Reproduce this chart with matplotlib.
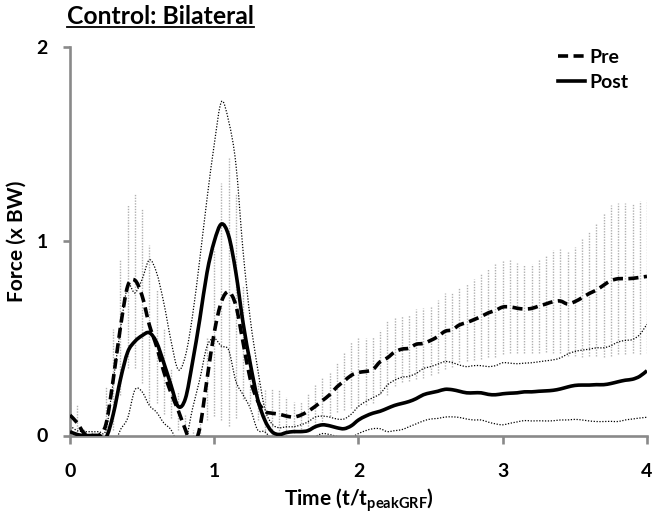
import numpy as np
import matplotlib
matplotlib.use("Agg")
import matplotlib.pyplot as plt
from matplotlib.lines import Line2D
from matplotlib.path import Path
from matplotlib.patches import PathPatch

plt.rcParams["font.family"] = ["Lato", "DejaVu Sans"]
plt.rcParams["font.weight"] = "bold"
plt.rcParams["mathtext.fontset"] = "custom"
plt.rcParams["mathtext.rm"] = "Lato:bold"
plt.rcParams["mathtext.bf"] = "Lato:bold"

# normalised time, one sample every 0.05 t/t_peakGRF
time = np.round(np.arange(81) * 0.05, 2)

pre_mean = [
    0.105, 0.065, 0.01, 0.0, 0.0, 0.06, 0.29, 0.56, 0.77, 0.80,
    0.72, 0.57, 0.46, 0.33, 0.22, 0.13, 0.03, -0.05, 0.04, 0.29,
    0.53, 0.69, 0.74, 0.67, 0.48, 0.29, 0.18, 0.125, 0.115, 0.11,
    0.10, 0.095, 0.105, 0.125, 0.15, 0.18, 0.21, 0.25, 0.28, 0.31,
    0.325, 0.33, 0.34, 0.38, 0.40, 0.43, 0.445, 0.45, 0.47, 0.475,
    0.49, 0.51, 0.537, 0.545, 0.57, 0.582, 0.597, 0.613, 0.632, 0.645,
    0.662, 0.663, 0.656, 0.652, 0.655, 0.667, 0.678, 0.69, 0.693, 0.678,
    0.69, 0.71, 0.732, 0.75, 0.775, 0.798, 0.808, 0.808, 0.81, 0.815,
    0.82,
]
pre_sd = [
    0.08, 0.09, 0.03, 0.02, 0.02, 0.19, 0.26, 0.35, 0.42, 0.45,
    0.45, 0.41, 0.29, 0.22, 0.13, 0.10, 0.075, 0.08, 0.04, 0.21,
    0.43, 0.61, 0.69, 0.58, 0.29, 0.13, 0.10, 0.11, 0.13, 0.13,
    0.10, 0.08, 0.07, 0.09, 0.11, 0.12, 0.11, 0.13, 0.15, 0.17,
    0.175, 0.175, 0.17, 0.165, 0.19, 0.176, 0.17, 0.17, 0.18, 0.18,
    0.18, 0.19, 0.196, 0.19, 0.19, 0.20, 0.21, 0.217, 0.228, 0.24,
    0.24, 0.24, 0.232, 0.228, 0.228, 0.24, 0.25, 0.266, 0.266, 0.27,
    0.28, 0.305, 0.324, 0.342, 0.37, 0.39, 0.39, 0.39, 0.387, 0.395,
    0.395,
]
post_mean = [
    0.02, 0.005, 0.0, 0.0, 0.0, -0.01, 0.11, 0.29, 0.43, 0.485,
    0.515, 0.53, 0.48, 0.375, 0.26, 0.15, 0.19, 0.38, 0.60, 0.84,
    1.00, 1.09, 1.03, 0.84, 0.58, 0.37, 0.19, 0.08, 0.02, 0.005,
    0.015, 0.02, 0.02, 0.025, 0.045, 0.055, 0.05, 0.04, 0.035, 0.05,
    0.08, 0.10, 0.115, 0.125, 0.14, 0.155, 0.165, 0.175, 0.19, 0.21,
    0.22, 0.228, 0.238, 0.236, 0.228, 0.22, 0.22, 0.22, 0.212, 0.21,
    0.215, 0.218, 0.22, 0.225, 0.225, 0.228, 0.23, 0.233, 0.24, 0.25,
    0.258, 0.26, 0.26, 0.262, 0.262, 0.268, 0.277, 0.285, 0.29, 0.305,
    0.334,
]
post_sd = [
    0.03, 0.02, 0.02, 0.02, 0.02, 0.04, 0.17, 0.26, 0.34, 0.25,
    0.29, 0.375, 0.36, 0.31, 0.23, 0.19, 0.22, 0.24, 0.31, 0.38,
    0.50, 0.63, 0.59, 0.56, 0.37, 0.23, 0.16, 0.06, 0.04, 0.035,
    0.03, 0.025, 0.035, 0.045, 0.05, 0.045, 0.045, 0.045, 0.05, 0.06,
    0.07, 0.075, 0.08, 0.09, 0.12, 0.13, 0.135, 0.13, 0.13, 0.135,
    0.135, 0.14, 0.143, 0.14, 0.135, 0.135, 0.14, 0.14, 0.143, 0.15,
    0.16, 0.155, 0.15, 0.148, 0.15, 0.152, 0.155, 0.157, 0.16, 0.17,
    0.175, 0.18, 0.185, 0.19, 0.19, 0.195, 0.205, 0.205, 0.205, 0.215,
    0.24,
]

x_ticks = [0, 1, 2, 3, 4]
y_ticks = [0, 1, 2]

pre = np.array(pre_mean)
pre_err = np.array(pre_sd)
post = np.array(post_mean)
post_err = np.array(post_sd)


def smooth_path(x, y):
    # Excel-style "smoothed line": Catmull-Rom through every point, as Bezier
    pts = np.column_stack([x, y])
    ext = np.vstack([pts[0], pts, pts[-1]])
    verts = [pts[0]]
    codes = [Path.MOVETO]
    for i in range(1, len(ext) - 2):
        p0, p1, p2, p3 = ext[i - 1], ext[i], ext[i + 1], ext[i + 2]
        verts += [p1 + (p2 - p0) / 6, p2 - (p3 - p1) / 6, p2]
        codes += [Path.CURVE4] * 3
    return Path(verts, codes)


def draw_curve(ax, x, y, **style):
    ax.add_patch(PathPatch(smooth_path(x, y), fill=False, **style))


fig = plt.figure(figsize=(6.56, 5.2), dpi=100)
ax = fig.add_axes([0.1067, 0.1625, 0.8795, 0.7462])

axis_grey = "#898989"
dash = (0, (2.8, 1.5))
dots = (0, (1, 1.3))

# Pre SD as grey dotted bars, Post SD as thin dotted lines
ax.vlines(time, pre - pre_err, pre + pre_err, colors="#b0b0b0",
          linestyles=(0, (1, 1)), linewidth=1.0, zorder=1)
draw_curve(ax, time, post + post_err, edgecolor="black", linewidth=0.9,
           linestyle=dots, zorder=2)
draw_curve(ax, time, post - post_err, edgecolor="black", linewidth=0.9,
           linestyle=dots, zorder=2)
draw_curve(ax, time, pre, edgecolor="black", linewidth=2.6,
           linestyle=dash, zorder=3)
draw_curve(ax, time, post, edgecolor="black", linewidth=2.6,
           linestyle="-", zorder=3)

ax.set_xlim(0, 4)
ax.set_ylim(0, 2)
ax.set_xticks(x_ticks)
ax.set_yticks(y_ticks)

for side in ["top", "right"]:
    ax.spines[side].set_visible(False)
for side in ["left", "bottom"]:
    ax.spines[side].set_color(axis_grey)
    ax.spines[side].set_linewidth(1.9)

ax.tick_params(axis="x", direction="out", length=5.5, width=1.9,
               color=axis_grey, pad=14, labelsize=14)
ax.tick_params(axis="y", direction="out", length=5, width=1.9,
               color=axis_grey, pad=11, labelsize=14)

ax.set_xlabel(r"Time (t/t$_{\mathbf{peakGRF}}$)", fontsize=15,
              fontweight="bold", labelpad=5)
ax.set_ylabel("Force (x BW)", fontsize=15, fontweight="bold", labelpad=7)

handles = [
    Line2D([], [], color="black", linewidth=2.6, linestyle=dash),
    Line2D([], [], color="black", linewidth=2.6),
]
ax.legend(handles, ["Pre", "Post"], loc="upper left",
          bbox_to_anchor=(0.851, 0.906), bbox_transform=fig.transFigure,
          frameon=False, fontsize=14, handlelength=1.35, handletextpad=0.25,
          labelspacing=0.4, borderpad=0, borderaxespad=0)

title = fig.text(67 / 656, 1 - 24 / 520, "Control: Bilateral",
                 fontsize=17.8, fontweight="bold", va="baseline", ha="left")

# underline the title
fig.canvas.draw()
bb = title.get_window_extent().transformed(fig.transFigure.inverted())
y_line = 1 - 27 / 520
fig.add_artist(Line2D([bb.x0, bb.x1], [y_line, y_line], color="black",
                      linewidth=1.3, transform=fig.transFigure))

fig.savefig("out.png", dpi=100)
